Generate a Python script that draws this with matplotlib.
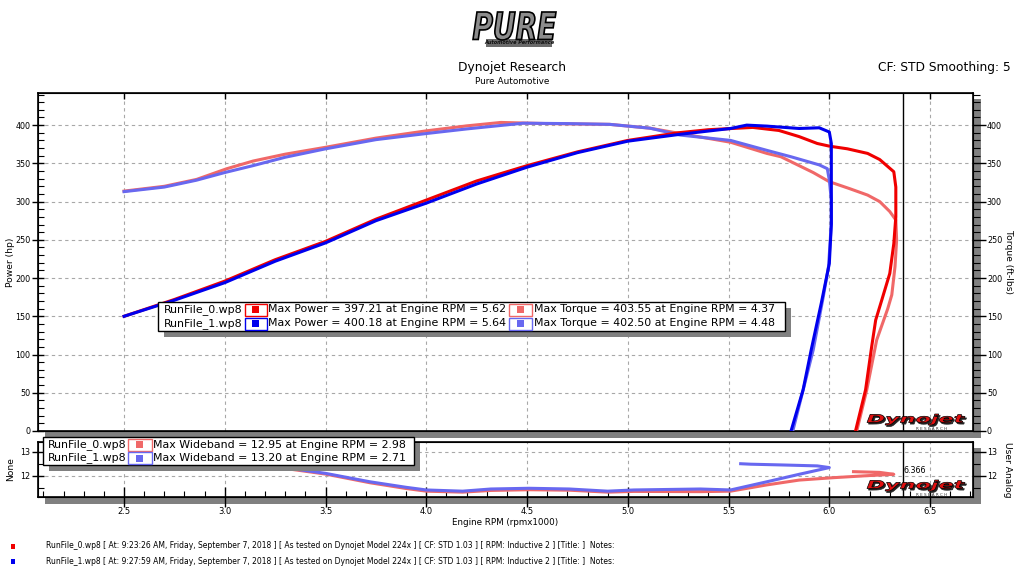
import numpy as np
import matplotlib
matplotlib.use('Agg')
import matplotlib.pyplot as plt
from matplotlib.patches import Rectangle, PathPatch
from matplotlib.textpath import TextPath
from matplotlib.font_manager import FontProperties
from matplotlib.transforms import Affine2D
from matplotlib.ticker import MultipleLocator

# ---- legend / header data ----
runs = ['RunFile_0.wp8', 'RunFile_1.wp8']
run_times = ['9:23:26 AM', '9:27:59 AM']
max_power = [397.21, 400.18]
max_power_rpm = [5.62, 5.64]
max_torque = [403.55, 402.50]
max_torque_rpm = [4.37, 4.48]
max_wideband = [12.95, 13.20]
max_wideband_rpm = [2.98, 2.71]
cursor_rpm = 6.366

# ---- run 0 (red) ----
rpm0_hp = [2.50, 2.75, 3.00, 3.25, 3.50, 3.75, 4.00, 4.25, 4.50, 4.75, 5.00, 5.25, 5.40,
           5.62, 5.75, 5.85, 5.94, 6.00, 6.09, 6.19, 6.25, 6.32, 6.33, 6.33, 6.32, 6.30,
           6.26, 6.23, 6.21, 6.18, 6.13]
hp0 = [150, 172, 196, 224, 248, 277, 302, 327, 347, 365, 380, 390, 394,
       397, 393, 385, 376, 372.5, 369, 363, 355, 339, 319, 280, 245, 206,
       171, 145, 110, 54, 0]
rpm0_tq = [2.50, 2.70, 2.86, 3.01, 3.14, 3.30, 3.50, 3.75, 4.00, 4.20, 4.37, 4.60, 4.91,
           5.11, 5.26, 5.51, 5.69, 5.76, 5.92, 6.00, 6.10, 6.19, 6.25, 6.30, 6.33, 6.334,
           6.326, 6.31, 6.29, 6.235, 6.186, 6.137]
tq0 = [313.7, 320, 329, 343, 353, 362, 371, 383, 392.5, 399, 403.5, 402, 401,
       396, 389, 377.6, 363, 358.6, 338, 326, 317, 308.5, 300, 287, 276, 250,
       215, 178, 160, 119, 54, 1]
rpm0_afr = [2.50, 2.98, 3.26, 3.50, 3.72, 3.90, 4.00, 4.18, 4.32, 4.51, 4.71, 4.90, 5.03,
            5.36, 5.51, 5.69, 5.85, 6.02, 6.18, 6.32, 6.25, 6.12]
afr0 = [12.70, 12.95, 12.36, 12.08, 11.72, 11.48, 11.37, 11.33, 11.40, 11.43, 11.41, 11.33, 11.36,
        11.35, 11.37, 11.63, 11.83, 11.93, 12.01, 12.07, 12.15, 12.18]

# ---- run 1 (blue) ----
rpm1_hp = [2.50, 2.75, 3.00, 3.25, 3.50, 3.75, 4.00, 4.25, 4.50, 4.75, 5.00, 5.26, 5.51,
           5.59, 5.69, 5.85, 5.95, 6.00, 6.01, 6.01, 6.00, 5.96, 5.91, 5.87, 5.81]
hp1 = [150, 171, 194, 222, 246, 275, 298, 323, 345, 364, 379, 388, 395.6,
       400, 398.7, 395.6, 396.5, 391, 376, 271, 219, 167, 106, 54, 0]
rpm1_tq = [2.50, 2.70, 2.86, 3.00, 3.14, 3.30, 3.50, 3.75, 4.00, 4.20, 4.48, 4.70, 4.91,
           5.11, 5.26, 5.51, 5.69, 5.81, 5.95, 5.99, 6.00, 6.01, 6.01, 5.996, 5.97, 5.92,
           5.87, 5.82]
tq1 = [313, 319, 328, 338, 347, 358, 369, 381, 389, 395, 402.5, 402, 401,
       396, 387, 380, 367, 358.6, 348, 343, 328, 302, 271, 215, 175.6, 106,
       53.6, 1.3]
rpm1_afr = [2.50, 2.71, 2.98, 3.26, 3.50, 3.72, 3.90, 4.00, 4.18, 4.32, 4.51, 4.71, 4.90,
            5.03, 5.36, 5.51, 5.69, 5.85, 6.00, 5.94, 5.76, 5.61, 5.56]
afr1 = [12.90, 13.20, 12.80, 12.39, 12.11, 11.76, 11.53, 11.42, 11.37, 11.46, 11.49, 11.46, 11.37,
        11.42, 11.46, 11.42, 11.76, 12.07, 12.35, 12.42, 12.46, 12.49, 12.51]

power_colors = ['#f00000', '#0000ee']
light_colors = ['#f06868', '#6868f0']

W, H = 1024, 576
fig = plt.figure(figsize=(W / 100, H / 100), dpi=100)


def fx(x):
    return x / W


def fy(y):
    return 1 - y / H


def px_rect(x0, y0, x1, y1, **kw):
    r = Rectangle((fx(x0), fy(y1)), (x1 - x0) / W, (y1 - y0) / H,
                  transform=fig.transFigure, **kw)
    fig.add_artist(r)


def px_text(x, y, s, **kw):
    fig.text(fx(x), fy(y), s, **kw)


def logo_path(text, x0, y0, x1, y1, prop, **kw):
    # fit a text outline into a pixel box
    tp = TextPath((0, 0), text, size=10, prop=prop)
    ext = tp.get_extents()
    sx = (x1 - x0) / ext.width
    sy = (y1 - y0) / ext.height
    tr = Affine2D().translate(-ext.x0, -ext.y0).scale(sx, sy).translate(x0, H - y1)
    fig.add_artist(PathPatch(tp, transform=tr, **kw))


# shadows behind the panels
px_rect(45, 99, 981, 437.5, facecolor='#808080', edgecolor='none', zorder=-1)
px_rect(45, 448, 981, 503.5, facecolor='#808080', edgecolor='none', zorder=-1)

xlim = (2.073, 6.713)

# ---- main panel ----
ax = fig.add_axes([fx(38), fy(431), fx(973) - fx(38), fy(93) - fy(431)])
ax.set_xlim(*xlim)
ax.set_ylim(0, 442)
ax.plot(rpm0_tq, tq0, color=light_colors[0], lw=2.2, solid_joinstyle='round', zorder=3)
ax.plot(rpm1_tq, tq1, color=light_colors[1], lw=2.2, solid_joinstyle='round', zorder=3)
ax.plot(rpm0_hp, hp0, color=power_colors[0], lw=2.2, solid_joinstyle='round', zorder=4)
ax.plot(rpm1_hp, hp1, color=power_colors[1], lw=2.2, solid_joinstyle='round', zorder=4)
ax.axvline(cursor_rpm, color='black', lw=1, zorder=5)

ax.xaxis.set_major_locator(MultipleLocator(0.5))
ax.yaxis.set_major_locator(MultipleLocator(50))
ax.yaxis.set_minor_locator(MultipleLocator(10))
ax.grid(True, which='major', color='#a8a8a8', linestyle=(0, (3, 3)), lw=0.8)
ax.tick_params(axis='x', which='both', bottom=False, top=True, labelbottom=False,
               direction='in', length=4, width=1)
ax.tick_params(axis='x', which='minor', top=False)
ax.tick_params(axis='y', which='major', direction='inout', length=9, width=1,
               labelsize=5.8, pad=1)
ax.tick_params(axis='y', which='minor', direction='in', length=4, width=0.8)
ax.set_ylabel('Power (hp)', fontsize=6.6, labelpad=0)
for s in ax.spines.values():
    s.set_linewidth(1.2)

axr = ax.twinx()
axr.set_ylim(ax.get_ylim())
axr.yaxis.set_major_locator(MultipleLocator(50))
axr.yaxis.set_minor_locator(MultipleLocator(10))
axr.tick_params(axis='y', which='major', direction='out', length=9, width=1,
                labelsize=5.8, pad=1)
axr.tick_params(axis='y', which='minor', direction='out', length=5, width=0.8)
axr.set_ylabel('Torque (ft-lbs)', fontsize=6.6, rotation=-90, labelpad=8)

# ---- lower panel (wideband) ----
ax2 = fig.add_axes([fx(38), fy(496.7), fx(973) - fx(38), fy(442.3) - fy(496.7)])
ax2.set_xlim(*xlim)
ax2.set_ylim(11.14, 13.40)
ax2.plot(rpm0_afr, afr0, color=light_colors[0], lw=2.2, zorder=3)
ax2.plot(rpm1_afr, afr1, color=light_colors[1], lw=2.2, zorder=4)
ax2.axvline(cursor_rpm, color='black', lw=1, zorder=5)
ax2.text(cursor_rpm, 12.22, '%.3f' % cursor_rpm, fontsize=5.8, ha='left', va='center')

ax2.xaxis.set_major_locator(MultipleLocator(0.5))
ax2.xaxis.set_minor_locator(MultipleLocator(0.1))
ax2.yaxis.set_major_locator(MultipleLocator(1))
ax2.yaxis.set_minor_locator(MultipleLocator(0.5))
ax2.grid(True, which='major', color='#a8a8a8', linestyle=(0, (3, 3)), lw=0.8)
ax2.tick_params(axis='x', which='major', direction='inout', length=14, width=1,
                labelsize=6, pad=0.5)
ax2.tick_params(axis='x', which='minor', direction='in', length=4, width=0.8)
ax2.tick_params(axis='y', which='major', direction='inout', length=9, width=1,
                labelsize=5.8, pad=1)
ax2.tick_params(axis='y', which='minor', direction='in', length=4, width=0.8)
ax2.set_xlabel('Engine RPM (rpmx1000)', fontsize=6.3, labelpad=1.5)
ax2.set_ylabel('None', fontsize=6.6, labelpad=4)
for s in ax2.spines.values():
    s.set_linewidth(1.2)

ax2r = ax2.twinx()
ax2r.set_ylim(ax2.get_ylim())
ax2r.yaxis.set_major_locator(MultipleLocator(1))
ax2r.yaxis.set_minor_locator(MultipleLocator(0.5))
ax2r.tick_params(axis='y', which='major', direction='out', length=9, width=1,
                 labelsize=5.8, pad=1)
ax2r.tick_params(axis='y', which='minor', direction='out', length=5, width=0.8)
ax2r.set_ylabel('User Analog', fontsize=6.6, rotation=-90, labelpad=11)

# ---- legend in main panel ----
lfs = 7.9
px_rect(164, 308, 791, 337, facecolor='#808080', edgecolor='none', zorder=6)
px_rect(158, 302, 785, 330.5, facecolor='white', edgecolor='black', lw=1, zorder=7)
for i, yc in enumerate([309.5, 323.5]):
    px_text(164, yc, runs[i], fontsize=lfs, va='center', zorder=8)
    px_rect(245, yc - 6, 266.5, yc + 6, facecolor='white', edgecolor=power_colors[i], lw=1, zorder=8)
    px_rect(252, yc - 3.5, 259, yc + 3.5, facecolor=power_colors[i], edgecolor='none', zorder=9)
    px_text(268.5, yc, 'Max Power = %.2f at Engine RPM = %.2f' % (max_power[i], max_power_rpm[i]),
            fontsize=lfs, va='center', zorder=8)
    px_rect(509, yc - 6, 532, yc + 6, facecolor='white', edgecolor=light_colors[i], lw=1, zorder=8)
    px_rect(517, yc - 3.5, 524, yc + 3.5, facecolor=light_colors[i], edgecolor='none', zorder=9)
    px_text(533.5, yc, 'Max Torque = %.2f at Engine RPM = %.2f' % (max_torque[i], max_torque_rpm[i]),
            fontsize=lfs, va='center', zorder=8)

# ---- legend in lower panel ----
px_rect(49, 443, 420, 470.5, facecolor='#808080', edgecolor='none', zorder=6)
px_rect(43, 437, 414, 464.5, facecolor='white', edgecolor='black', lw=1, zorder=7)
for i, yc in enumerate([444.5, 458]):
    px_text(48, yc, runs[i], fontsize=lfs, va='center', zorder=8)
    px_rect(128, yc - 6, 151.5, yc + 6, facecolor='white', edgecolor=light_colors[i], lw=1, zorder=8)
    px_rect(136, yc - 3.5, 143, yc + 3.5, facecolor=light_colors[i], edgecolor='none', zorder=9)
    px_text(153, yc, 'Max Wideband = %.2f at Engine RPM = %.2f' % (max_wideband[i], max_wideband_rpm[i]),
            fontsize=lfs, va='center', zorder=8)

# ---- Dynojet logos ----
bi = FontProperties(family='DejaVu Sans', weight='bold', style='italic')
for (x0, y0, x1, y1, ry) in [(867, 414, 965, 425, 429), (867, 480, 965, 491, 495)]:
    logo_path('Dynojet', x0 + 1.5, y0 + 1.5, x1 + 1.5, y1 + 1.5, bi, facecolor='#222222',
              edgecolor='#222222', lw=0.5, zorder=10)
    logo_path('Dynojet', x0, y0, x1, y1, bi, facecolor='#e01010',
              edgecolor='black', lw=0.5, zorder=11)
    px_text(932, ry, 'R E S E A R C H', fontsize=3, ha='center', va='center',
            color='#333333', zorder=11)

# ---- header ----
logo_path('PURE', 473, 12, 556, 40, bi, facecolor='#8c8c8c', edgecolor='black', lw=1.2, zorder=10)
px_rect(486, 39, 552, 47, facecolor='#6a6a6a', edgecolor='none', zorder=9)
px_text(519, 43, 'Automotive Performance', fontsize=3.6, fontweight='bold', style='italic',
        ha='center', va='center', color='#111111', zorder=11)
px_text(512, 67, 'Dynojet Research', fontsize=8.8, ha='center', va='center')
px_text(512, 82, 'Pure Automotive', fontsize=6.4, ha='center', va='center')
px_text(1011, 67, 'CF: STD Smoothing: 5', fontsize=8.8, ha='right', va='center')

# ---- footer run info ----
for i, yc in enumerate([546, 561]):
    px_rect(11, yc - 2.5, 15, yc + 2.5, facecolor=power_colors[i], edgecolor='none')
    info = ('%s [ At: %s, Friday, September 7, 2018 ] [ As tested on Dynojet Model 224x ] '
            '[ CF: STD 1.03 ] [ RPM: Inductive 2 ] [Title: ]  Notes:' % (runs[i], run_times[i]))
    px_text(46, yc, info, fontsize=5.5, va='center')

fig.savefig('out.png', dpi=100)
